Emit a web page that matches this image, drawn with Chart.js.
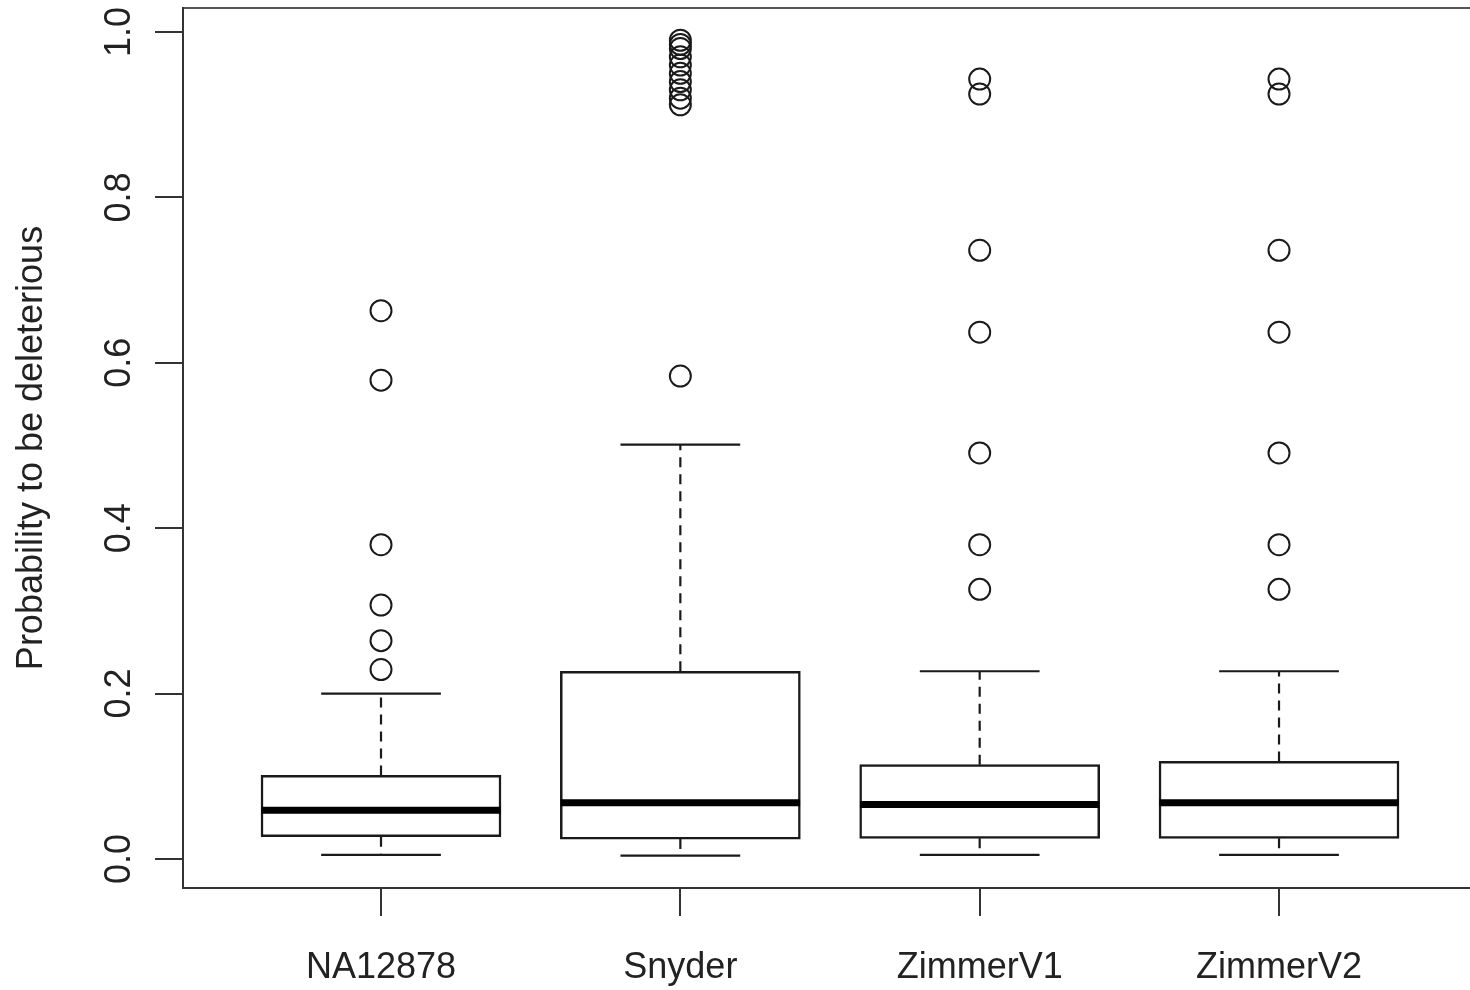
<!DOCTYPE html>
<html>
<head>
<meta charset="utf-8">
<script src="https://cdn.jsdelivr.net/npm/chart.js@4.4.1/dist/chart.umd.min.js"></script>
<style>
  html, body { margin: 0; padding: 0; background: #fff; overflow: hidden; }
  #wrap { width: 1470px; height: 990px; }
</style>
</head>
<body>
<div id="wrap"><canvas id="chart" width="1470" height="990"></canvas></div>
<script>
// boxplot summary per group
const categories = ['NA12878', 'Snyder', 'ZimmerV1', 'ZimmerV2'];
const whiskerLow = [0.005, 0.004, 0.005, 0.005];
const q1 = [0.027, 0.024, 0.025, 0.025];
const median = [0.059, 0.068, 0.066, 0.068];
const q3 = [0.101, 0.227, 0.114, 0.118];
const whiskerHigh = [0.200, 0.501, 0.227, 0.227];
const outliers = [
  [0.663, 0.579, 0.380, 0.307, 0.264, 0.229],
  [0.584, 0.912, 0.920, 0.930, 0.940, 0.950, 0.960, 0.970, 0.980, 0.985, 0.990],
  [0.943, 0.925, 0.736, 0.637, 0.491, 0.380, 0.326],
  [0.943, 0.925, 0.736, 0.637, 0.491, 0.380, 0.326]
];
const yTicks = [0, 0.2, 0.4, 0.6, 0.8, 1.0];

const INK = '#1a1a1a';
const BOX_W = 0.8, STAPLE_W = 0.4;

// segments as line data with gaps between them
function segs(list) {
  const out = [];
  list.forEach(([x1, y1, x2, y2]) => {
    out.push({x: x1, y: y1}, {x: x2, y: y2}, {x: x2, y: null});
  });
  return out;
}

const pos = categories.map((c, i) => i + 1);
const medianSegs = segs(pos.map((p, i) => [p - BOX_W / 2, median[i], p + BOX_W / 2, median[i]]));
const whiskerSegs = segs(pos.flatMap((p, i) => [[p, q3[i], p, whiskerHigh[i]], [p, q1[i], p, whiskerLow[i]]]));
const stapleSegs = segs(pos.flatMap((p, i) => [
  [p - STAPLE_W / 2, whiskerHigh[i], p + STAPLE_W / 2, whiskerHigh[i]],
  [p - STAPLE_W / 2, whiskerLow[i], p + STAPLE_W / 2, whiskerLow[i]]
]));
const outlierPts = pos.flatMap((p, i) => outliers[i].map(v => ({x: p, y: v})));
const boxes = pos.map((p, i) => ({x: p, y: [q1[i], q3[i]]}));

Chart.defaults.font.family = '"Liberation Sans", Arial, sans-serif';
Chart.defaults.color = '#222';

new Chart(document.getElementById('chart'), {
  type: 'scatter',
  data: {
    datasets: [
      { type: 'scatter', data: outlierPts, pointStyle: 'circle', pointRadius: 10.5,
        pointBackgroundColor: 'rgba(255,255,255,0)', pointBorderColor: INK, pointBorderWidth: 2 },
      { type: 'line', data: stapleSegs, borderColor: INK, borderWidth: 2.2, pointRadius: 0, spanGaps: false },
      { type: 'line', data: medianSegs, borderColor: '#000', borderWidth: 7, pointRadius: 0, spanGaps: false,
        borderCapStyle: 'butt' },
      { type: 'line', data: whiskerSegs, borderColor: INK, borderWidth: 2.2, borderDash: [10, 7],
        pointRadius: 0, spanGaps: false },
      { type: 'bar', data: boxes, backgroundColor: '#fff', borderColor: INK, borderWidth: 2.5,
        borderSkipped: false, barThickness: 240 }
    ]
  },
  options: {
    responsive: false,
    animation: false,
    layout: { autoPadding: false, padding: { top: 8, left: 0, right: 0, bottom: 0 } },
    plugins: { legend: { display: false }, tooltip: { enabled: false } },
    scales: {
      x: {
        type: 'linear', position: 'bottom', min: 0.3385, max: 4.638, offset: false,
        grid: { display: true, offset: false, drawOnChartArea: false, drawTicks: true, tickLength: 28,
          color: '#333', lineWidth: 2 },
        border: { display: true, color: '#333', width: 2 },
        ticks: { stepSize: 1, includeBounds: false, autoSkip: false, maxRotation: 0, padding: 30,
          font: { size: 36 }, color: '#222',
          callback: v => categories[v - 1] || '' },
        afterFit: s => { s.height = 102; s.paddingLeft = 0; s.paddingRight = 0; }
      },
      xTop: {
        type: 'linear', position: 'top', min: 0.3385, max: 4.638, offset: false,
        grid: { display: false, drawTicks: false, offset: false },
        border: { display: true, color: '#555', width: 2 },
        ticks: { display: false },
        afterFit: s => { s.height = 0; s.paddingLeft = 0; s.paddingRight = 0; }
      },
      y: {
        type: 'linear', position: 'left', min: -0.0351, max: 1.029,
        grid: { display: true, drawOnChartArea: false, drawTicks: true, tickLength: 28, color: '#333', lineWidth: 2 },
        border: { display: true, color: '#333', width: 2 },
        afterBuildTicks: s => { s.ticks = yTicks.map(v => ({value: v})); },
        ticks: { minRotation: 90, maxRotation: 90, crossAlign: 'center', padding: 10,
          font: { size: 36 }, color: '#222',
          callback: v => Number(v).toFixed(1) },
        title: { display: true, text: 'Probability to be deleterious', font: { size: 36 },
          color: '#222', padding: { top: 10, bottom: 0 } },
        afterFit: s => { s.width = 183; s.paddingTop = 0; s.paddingBottom = 0; }
      }
    }
  }
});
</script>
</body>
</html>
